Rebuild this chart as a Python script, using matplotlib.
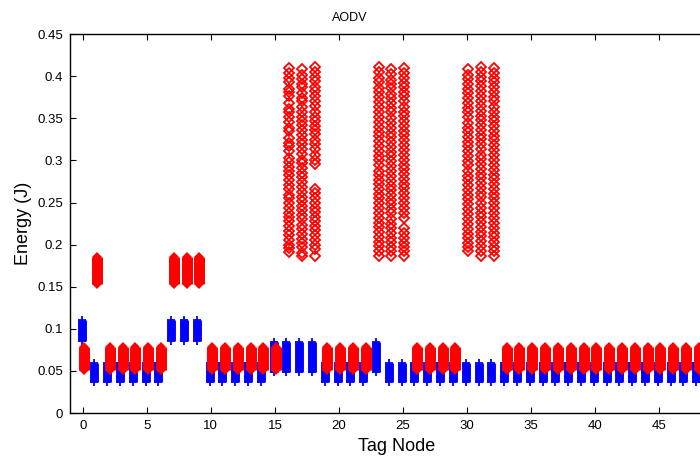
import matplotlib.pyplot as plt
import numpy as np

plt.rcParams['font.family'] = ['Liberation Sans', 'DejaVu Sans']

nodes = np.arange(50)

# blue '+' stacks, lower / upper energy (J) per tag node
blue_lo = [0.085, 0.037, 0.037, 0.037, 0.037, 0.037, 0.037, 0.085, 0.085, 0.085,
           0.037, 0.037, 0.037, 0.037, 0.037, 0.049, 0.049, 0.049, 0.049, 0.037,
           0.037, 0.037, 0.037, 0.049, 0.037, 0.037, 0.037, 0.037, 0.037, 0.037,
           0.037, 0.037, 0.037, 0.037, 0.037, 0.037, 0.037, 0.037, 0.037, 0.037,
           0.037, 0.037, 0.037, 0.037, 0.037, 0.037, 0.037, 0.037, 0.037, 0.037]
blue_hi = [0.110, 0.059, 0.059, 0.059, 0.059, 0.059, 0.059, 0.110, 0.110, 0.110,
           0.059, 0.059, 0.059, 0.059, 0.059, 0.084, 0.084, 0.084, 0.084, 0.059,
           0.059, 0.059, 0.059, 0.084, 0.059, 0.059, 0.059, 0.059, 0.059, 0.059,
           0.059, 0.059, 0.059, 0.059, 0.059, 0.059, 0.059, 0.059, 0.059, 0.059,
           0.059, 0.059, 0.059, 0.059, 0.059, 0.059, 0.059, 0.059, 0.059, 0.059]

# red diamond stacks (dense), nan where the node has the spread-out values below
nan = np.nan
red_lo = [0.051, 0.153, 0.051, 0.051, 0.051, 0.051, 0.051, 0.153, 0.153, 0.153,
          0.051, 0.051, 0.051, 0.051, 0.051, 0.051, nan, nan, nan, 0.051,
          0.051, 0.051, 0.051, nan, nan, nan, 0.051, 0.051, 0.051, 0.051,
          nan, nan, nan, 0.051, 0.051, 0.051, 0.051, 0.051, 0.051, 0.051,
          0.051, 0.051, 0.051, 0.051, 0.051, 0.051, 0.051, 0.051, 0.051, 0.051]
red_hi = [0.078, 0.185, 0.078, 0.078, 0.078, 0.078, 0.078, 0.185, 0.185, 0.185,
          0.078, 0.078, 0.078, 0.078, 0.078, 0.078, nan, nan, nan, 0.078,
          0.078, 0.078, 0.078, nan, nan, nan, 0.078, 0.078, 0.078, 0.078,
          nan, nan, nan, 0.078, 0.078, 0.078, 0.078, 0.078, 0.078, 0.078,
          0.078, 0.078, 0.078, 0.078, 0.078, 0.078, 0.078, 0.078, 0.078, 0.078]

# spread-out red values for the high-energy nodes
red_16 = [0.410, 0.404, 0.398, 0.393, 0.385, 0.381, 0.376, 0.368, 0.361, 0.357,
          0.352, 0.346, 0.339, 0.335, 0.327, 0.321, 0.317, 0.311, 0.303, 0.298,
          0.292, 0.287, 0.283, 0.277, 0.271, 0.266, 0.259, 0.255, 0.249, 0.244,
          0.238, 0.233, 0.228, 0.222, 0.216, 0.211, 0.206, 0.200, 0.196, 0.191]
red_17 = [0.409, 0.402, 0.397, 0.391, 0.387, 0.380, 0.374, 0.370, 0.364, 0.358,
          0.351, 0.347, 0.342, 0.336, 0.330, 0.324, 0.320, 0.314, 0.308, 0.301,
          0.297, 0.291, 0.285, 0.280, 0.274, 0.268, 0.263, 0.257, 0.252, 0.246,
          0.241, 0.235, 0.230, 0.223, 0.218, 0.213, 0.207, 0.202, 0.197, 0.190,
          0.186]
red_18 = [0.411, 0.405, 0.399, 0.394, 0.387, 0.382, 0.376, 0.370, 0.365, 0.358,
          0.352, 0.347, 0.341, 0.336, 0.331, 0.324, 0.319, 0.313, 0.307, 0.301,
          0.296, 0.266, 0.261, 0.255, 0.250, 0.244, 0.239, 0.233, 0.228, 0.222,
          0.217, 0.211, 0.206, 0.200, 0.195, 0.186]
red_23 = [0.411, 0.405, 0.398, 0.393, 0.386, 0.381, 0.375, 0.369, 0.364, 0.357,
          0.351, 0.346, 0.340, 0.334, 0.329, 0.323, 0.317, 0.311, 0.305, 0.300,
          0.294, 0.288, 0.283, 0.277, 0.272, 0.266, 0.260, 0.255, 0.249, 0.243,
          0.238, 0.232, 0.226, 0.221, 0.215, 0.209, 0.203, 0.198, 0.193, 0.187]
red_24 = [0.408, 0.403, 0.396, 0.391, 0.386, 0.379, 0.374, 0.368, 0.362, 0.357,
          0.350, 0.345, 0.339, 0.333, 0.328, 0.322, 0.316, 0.310, 0.305, 0.299,
          0.293, 0.288, 0.282, 0.276, 0.270, 0.265, 0.259, 0.253, 0.248, 0.242,
          0.237, 0.231, 0.225, 0.220, 0.214, 0.208, 0.203, 0.197, 0.192, 0.186]
red_25 = [0.410, 0.404, 0.398, 0.392, 0.387, 0.381, 0.376, 0.370, 0.364, 0.358,
          0.353, 0.347, 0.341, 0.335, 0.330, 0.324, 0.318, 0.312, 0.307, 0.301,
          0.295, 0.290, 0.284, 0.278, 0.272, 0.267, 0.261, 0.255, 0.249, 0.244,
          0.238, 0.232, 0.220, 0.214, 0.208, 0.202, 0.197, 0.192, 0.187]
red_30 = [0.408, 0.402, 0.397, 0.391, 0.385, 0.380, 0.374, 0.368, 0.362, 0.357,
          0.351, 0.345, 0.339, 0.334, 0.328, 0.322, 0.317, 0.311, 0.305, 0.299,
          0.294, 0.288, 0.282, 0.277, 0.271, 0.265, 0.259, 0.254, 0.248, 0.242,
          0.236, 0.231, 0.225, 0.219, 0.213, 0.208, 0.202, 0.197, 0.192]
red_31 = [0.411, 0.405, 0.399, 0.394, 0.388, 0.382, 0.376, 0.371, 0.365, 0.359,
          0.353, 0.348, 0.342, 0.336, 0.330, 0.325, 0.319, 0.313, 0.307, 0.302,
          0.296, 0.290, 0.284, 0.279, 0.273, 0.267, 0.261, 0.256, 0.250, 0.244,
          0.238, 0.233, 0.227, 0.221, 0.215, 0.210, 0.204, 0.198, 0.192, 0.186]
red_32 = [0.410, 0.404, 0.398, 0.393, 0.387, 0.381, 0.375, 0.370, 0.364, 0.358,
          0.352, 0.347, 0.341, 0.335, 0.329, 0.324, 0.318, 0.312, 0.306, 0.301,
          0.295, 0.289, 0.283, 0.278, 0.272, 0.266, 0.260, 0.255, 0.249, 0.243,
          0.237, 0.232, 0.226, 0.220, 0.214, 0.209, 0.203, 0.197, 0.192, 0.187]
spread_nodes = [16, 17, 18, 23, 24, 25, 30, 31, 32]
spread_vals = [red_16, red_17, red_18, red_23, red_24, red_25, red_30, red_31, red_32]

xticks = [0, 5, 10, 15, 20, 25, 30, 35, 40, 45]
yticks = [0, 0.05, 0.1, 0.15, 0.2, 0.25, 0.3, 0.35, 0.4, 0.45]

fig = plt.figure(figsize=(7, 4.61), dpi=100)
ax = fig.add_axes([0.1, 0.104, 0.933, 0.822])

blue = '#0000ff'
red = '#ff0000'
dx = 0.1

# blue stacks of '+' markers
for x, lo, hi in zip(nodes, blue_lo, blue_hi):
    ax.plot([x - dx, x - dx], [lo, hi], color=blue, lw=6.4, solid_capstyle='butt', zorder=2)
    ax.plot([x - dx, x - dx], [lo, hi], '+', color=blue, ms=6.4, mew=1.3, zorder=2)

# dense red diamond stacks
for x, lo, hi in zip(nodes, red_lo, red_hi):
    if np.isnan(lo):
        continue
    ax.plot([x + dx, x + dx], [lo, hi], color=red, lw=7.9, solid_capstyle='butt', zorder=3)
    ax.plot([x + dx, x + dx], [lo, hi], 'D', color=red, ms=5.6, mew=0, zorder=3)

# spread-out red diamonds
for x, vals in zip(spread_nodes, spread_vals):
    ax.plot([x + dx] * len(vals), vals, 'D', ms=5.6, mfc='none', mec=red, mew=1.3, zorder=3)

ax.set_xlim(-1, 50)
ax.set_ylim(0, 0.45)
ax.set_xticks(xticks)
ax.set_yticks(yticks)
ax.set_yticklabels(['0', '0.05', '0.1', '0.15', '0.2', '0.25', '0.3', '0.35', '0.4', '0.45'])
ax.tick_params(direction='in', top=True, right=True, length=4, labelsize=9.5, pad=5)
for s in ax.spines.values():
    s.set_linewidth(1.0)

ax.set_xlabel('Tag Node', fontsize=13, labelpad=4)
ax.set_ylabel('Energy (J)', fontsize=13, labelpad=4)
fig.text(0.5, 0.96, 'AODV', ha='center', va='center', fontsize=9)

fig.savefig('out.png', dpi=100)
